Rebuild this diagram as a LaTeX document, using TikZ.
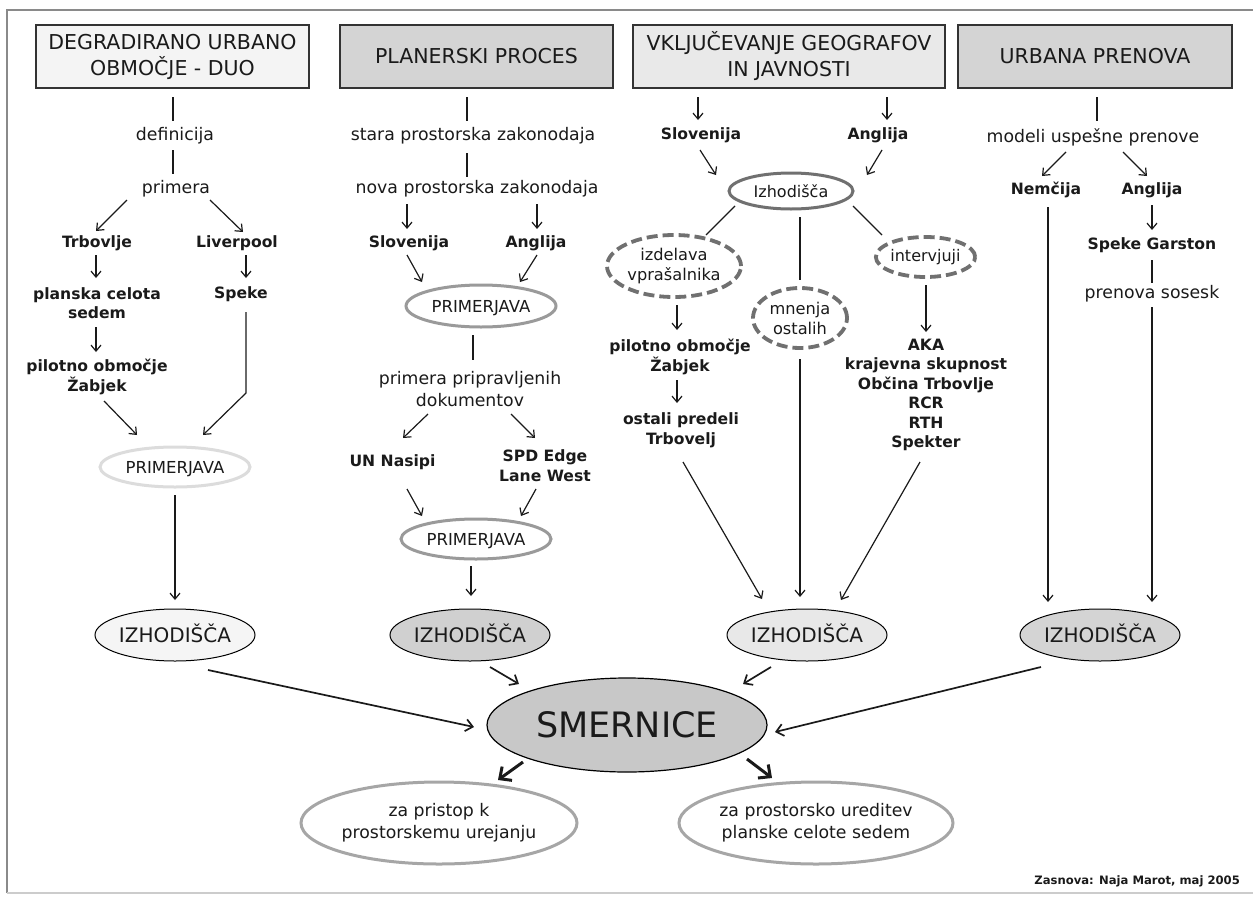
\documentclass[tikz,border=0pt]{standalone}
\usepackage{fontspec}
\setmainfont{DejaVu Sans}
\usetikzlibrary{arrows.meta,shapes.geometric,calc}
\definecolor{hA}{HTML}{F4F4F4}
\definecolor{hB}{HTML}{D4D4D4}
\definecolor{hC}{HTML}{E9E9E9}
\definecolor{izA}{HTML}{F5F5F5}
\definecolor{izB}{HTML}{D0D0D0}
\definecolor{izC}{HTML}{E8E8E8}
\definecolor{izD}{HTML}{D4D4D4}
\definecolor{smerfill}{HTML}{C8C8C8}
\definecolor{prLight}{HTML}{DCDCDC}
\definecolor{prMid}{HTML}{9A9A9A}
\definecolor{darkgr}{HTML}{707070}
\definecolor{botgr}{HTML}{A6A6A6}
\definecolor{frameA}{HTML}{8A8A8A}
\definecolor{frameB}{HTML}{CCCCCC}
\definecolor{ink}{HTML}{1A1A1A}
\newcommand\fHdr{\fontsize{20.5pt}{26pt}\selectfont}
\newcommand\fBody{\fontsize{17.3pt}{22pt}\selectfont}
\newcommand\fBld{\fontsize{15.6pt}{19.5pt}\selectfont\bfseries}
\newcommand\fPrim{\fontsize{16.5pt}{20pt}\selectfont}
\newcommand\fIz{\fontsize{20pt}{24pt}\selectfont}
\newcommand\fIzs{\fontsize{16pt}{20pt}\selectfont}
\newcommand\fDash{\fontsize{16.2pt}{20pt}\selectfont}
\newcommand\fSmer{\fontsize{35pt}{40pt}\selectfont}
\newcommand\fBot{\fontsize{17.3pt}{22pt}\selectfont}
\newcommand\fCred{\fontsize{11.6pt}{14pt}\selectfont\bfseries}
\begin{document}
\begin{tikzpicture}[x=1pt,y=-1pt,
  every node/.style={text=ink},
  hdr/.style={draw=black!80, line width=1.5pt, minimum height=63, align=center, inner sep=0, font=\fHdr},
  txt/.style={inner sep=0, align=center, font=\fBody},
  btxt/.style={inner sep=0, align=center, font=\fBld},
  prell/.style={ellipse, line width=3pt, inner sep=0, fill=white, font=\fPrim, text height=12pt, text depth=0pt, minimum width=150, minimum height=40},
  izell/.style={ellipse, draw=black, line width=1pt, inner sep=0, font=\fIz, text height=14.6pt, text depth=0pt, minimum width=160, minimum height=52},
  dell/.style={ellipse, draw=darkgr, line width=3.8pt, dash pattern=on 11pt off 5pt, inner sep=0, align=center, font=\fDash, fill=white},
  botell/.style={ellipse, draw=botgr, line width=3pt, inner sep=0, align=center, font=\fBot, fill=white, minimum height=82},
  ln/.style={line width=1.2pt, draw=ink},
  arr/.style={ln, -{Straight Barb[length=6pt,width=10pt]}},
  barr/.style={line width=3pt, draw=ink, -{Straight Barb[length=9pt,width=17pt]}},
  larr/.style={line width=1.7pt, draw=ink, -{Straight Barb[length=7pt,width=12pt]}}
]
\useasboundingbox (0,0) rectangle (1253,897);
% frame
\draw[line width=1.5pt, draw=frameA] (7,893) -- (7,10) -- (1253,10);
\draw[line width=1.5pt, draw=frameB] (7,893) -- (1253,893);

% headers
\node[hdr, fill=hA, minimum width=273] (h1) at (172.5,56.5) {DEGRADIRANO URBANO\\OBMOČJE - DUO};
\node[hdr, fill=hB, minimum width=273] (h2) at (476.5,56.5) {PLANERSKI PROCES};
\node[hdr, fill=hC, minimum width=312] (h3) at (789,56.5) {VKLJUČEVANJE GEOGRAFOV\\IN JAVNOSTI};
\node[hdr, fill=hB, minimum width=274] (h4) at (1095,56.5) {URBANA PRENOVA};

% column 1
\node[txt] (def) at (175,136) {definicija};
\node[txt] (prim1) at (176,189) {primera};
\node[btxt] (trb) at (97,243) {Trbovlje};
\node[btxt] (liv) at (237,243) {Liverpool};
\node[btxt] (plc) at (97,303) {planska celota\\sedem};
\node[btxt] (spk) at (241,294) {Speke};
\node[btxt] (pil1) at (97,377) {pilotno območje\\Žabjek};
\node[prell, draw=prLight] (pr1) at (175,467) {PRIMERJAVA};
\node[izell, fill=izA] (iz1) at (175,635) {IZHODIŠČA};

% column 2
\node[txt] (stara) at (473,136) {stara prostorska zakonodaja};
\node[txt] (nova) at (477,189) {nova prostorska zakonodaja};
\node[btxt] (slo2) at (409,243) {Slovenija};
\node[btxt] (ang2) at (536,243) {Anglija};
\node[prell, draw=prMid, minimum width=150, minimum height=42] (pr2a) at (481,306) {PRIMERJAVA};
\node[txt] (ppd) at (470,389) {primera pripravljenih\\dokumentov};
\node[btxt] (un) at (392.5,462) {UN Nasipi};
\node[btxt] (spd) at (545,465.5) {SPD Edge\\Lane West};
\node[prell, draw=prMid] (pr2b) at (476,539) {PRIMERJAVA};
\node[izell, fill=izB] (iz2) at (470,635) {IZHODIŠČA};

% column 3
\node[btxt] (slo3) at (701,135) {Slovenija};
\node[btxt] (ang3) at (878,135) {Anglija};
\node[ellipse, draw=darkgr, line width=3pt, inner sep=0, fill=white, font=\fIzs, minimum width=124, minimum height=36] (izs) at (791,191) {Izhodišča};
\node[dell, minimum width=134, minimum height=62] (izd) at (674,266) {izdelava\\vprašalnika};
\node[dell, minimum width=94, minimum height=60] (mne) at (800,318) {mnenja\\ostalih};
\node[dell, minimum width=95, minimum height=40, font=\fIzs] (int) at (925.5,257) {intervjuji};
\node[btxt] (pil3) at (680,357) {pilotno območje\\Žabjek};
\node[btxt] (ost) at (681,430.5) {ostali predeli\\Trbovelj};
\node[btxt] (aka) at (926,395) {AKA\\krajevna skupnost\\Občina Trbovlje\\RCR\\RTH\\Spekter};
\node[izell, fill=izC] (iz3) at (807,635) {IZHODIŠČA};

% column 4
\node[txt] (mod) at (1093,137) {modeli uspešne prenove};
\node[btxt] (nem) at (1046,190) {Nemčija};
\node[btxt] (ang4) at (1152,190) {Anglija};
\node[btxt] (sg) at (1152,245) {Speke Garston};
\node[txt] (ps) at (1152,294) {prenova sosesk};
\node[izell, fill=izD] (iz4) at (1100,635) {IZHODIŠČA};

% center
\node[ellipse, draw=black, line width=1.2pt, fill=smerfill, inner sep=0, minimum width=280, minimum height=94, font=\fSmer, text height=25.5pt, text depth=0pt] (smer) at (627,725) {SMERNICE};
\node[botell, minimum width=276] (bl) at (439,823) {za pristop k\\prostorskemu urejanju};
\node[botell, minimum width=274] (br) at (816,823) {za prostorsko ureditev\\planske celote sedem};
\node[anchor=east, inner sep=0, font=\fCred] (credit) at (1240,881) {Zasnova: Naja Marot, maj 2005};

% connectors column 1
\draw[ln] ($(h1)+(0.5,40.5)$) -- ($(def)+(-2,-15)$);
\draw[ln] ($(def)+(-2,14)$) -- ($(prim1)+(-3,-15)$);
\draw[arr] ($(prim1)+(-49,11)$) -- ($(trb)+(-1,-12)$);
\draw[arr] ($(prim1)+(34,11)$) -- ($(liv)+(6,-11)$);
\draw[arr] ($(trb)+(-1,12)$) -- ($(plc)+(-1,-25)$);
\draw[arr] ($(liv)+(9,12)$) -- ($(spk)+(5,-16)$);
\draw[arr] ($(plc)+(-1,24)$) -- ($(pil1)+(-1,-25)$);
\draw[arr] ($(pil1)+(7,24)$) -- ($(pr1)+(-38,-32)$);
\draw[arr] ($(spk)+(5,18)$) -- ($(spk)+(5,99)$) -- ($(pr1)+(28,-32)$);
\draw[arr] ($(pr1)+(0,28)$) -- ($(iz1)+(0,-35)$);
\draw[larr] ($(iz1)+(33,35)$) -- ($(smer)+(-153,2)$);

% connectors column 2
\draw[ln] ($(h2)+(-9.5,40.5)$) -- ($(stara)+(-6,-15)$);
\draw[ln] ($(stara)+(-6,17)$) -- ($(nova)+(-10,-12)$);
\draw[arr] ($(nova)+(-70,15)$) -- ($(slo2)+(-2,-14)$);
\draw[arr] ($(nova)+(60,15)$) -- ($(ang2)+(1,-14)$);
\draw[arr] ($(slo2)+(-2,12)$) -- ($(pr2a)+(-59,-24)$);
\draw[arr] ($(ang2)+(1,12)$) -- ($(pr2a)+(39,-24)$);
\draw[ln] ($(pr2a)+(-8,29)$) -- ($(ppd)+(3,-29)$);
\draw[arr] ($(ppd)+(-42,25)$) -- ($(un)+(10.5,-24)$);
\draw[arr] ($(ppd)+(41,25)$) -- ($(spd)+(-10,-27.5)$);
\draw[arr] ($(un)+(14.5,27)$) -- ($(pr2b)+(-54,-23)$);
\draw[arr] ($(spd)+(-9,23.5)$) -- ($(pr2b)+(45,-23)$);
\draw[arr] ($(pr2b)+(-5,27)$) -- ($(iz2)+(1,-39)$);
\draw[larr] ($(iz2)+(20,32)$) -- ($(smer)+(-108,-41)$);

% connectors column 3
\draw[arr] ($(h3)+(-91,40.5)$) -- ($(slo3)+(-3,-15)$);
\draw[arr] ($(h3)+(98,40.5)$) -- ($(ang3)+(9,-15)$);
\draw[arr] ($(slo3)+(-1,15)$) -- ($(izs)+(-75,-16)$);
\draw[arr] ($(ang3)+(4,15)$) -- ($(izs)+(76,-16)$);
\draw[ln] ($(izs)+(-56,15)$) -- ($(izd)+(32,-31)$);
\draw[ln] ($(izs)+(9,26)$) -- ($(mne)+(0,-38)$);
\draw[ln] ($(izs)+(62,15)$) -- ($(int)+(-43.5,-22)$);
\draw[arr] ($(izd)+(3,39)$) -- ($(pil3)+(-3,-27)$);
\draw[arr] ($(pil3)+(-3,23)$) -- ($(ost)+(-4,-27.5)$);
\draw[arr] ($(int)+(0.5,28)$) -- ($(aka)+(0,-63)$);
\draw[arr] ($(ost)+(2,31.5)$) -- ($(iz3)+(-45,-36)$);
\draw[arr] ($(mne)+(0,41)$) -- ($(iz3)+(-7,-38)$);
\draw[arr] ($(aka)+(-6,67)$) -- ($(iz3)+(34,-35)$);
\draw[larr] ($(iz3)+(-36,32)$) -- ($(smer)+(116,-41)$);

% connectors column 4
\draw[ln] ($(h4)+(2,40.5)$) -- ($(mod)+(4,-16)$);
\draw[arr] ($(mod)+(-27,15)$) -- ($(nem)+(-4,-14)$);
\draw[arr] ($(mod)+(30,15)$) -- ($(ang4)+(-5,-14)$);
\draw[arr] ($(ang4)+(0,15)$) -- ($(sg)+(0,-15)$);
\draw[ln] ($(sg)+(0,15)$) -- ($(ps)+(0,-11)$);
\draw[arr] ($(ps)+(0,13)$) -- ($(iz4)+(52,-33)$);
\draw[arr] ($(nem)+(2,17)$) -- ($(iz4)+(-52,-33)$);
\draw[larr] ($(iz4)+(-59,32)$) -- ($(smer)+(148,7)$);

% outputs
\draw[barr] ($(smer)+(-104,37)$) -- ($(bl)+(59,-43)$);
\draw[barr] ($(smer)+(120,34)$) -- ($(br)+(-44,-45)$);
\end{tikzpicture}
\end{document}
